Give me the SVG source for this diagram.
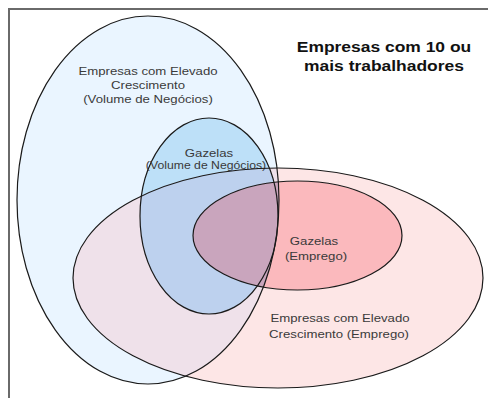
<svg xmlns="http://www.w3.org/2000/svg" width="488" height="398" viewBox="0 0 488 398">
<style>
.ol{fill:none;stroke:#1a1a1a;stroke-width:1.2}
.lb{font-family:"Liberation Sans",Arial,sans-serif;font-size:11px;fill:#3a3a3a;text-anchor:middle}
.tt{font-family:"Liberation Sans",Arial,sans-serif;font-size:14.3px;font-weight:bold;fill:#111;text-anchor:middle}
</style>
<defs>
<clipPath id="cA"><ellipse cx="148" cy="200" rx="131" ry="184"/></clipPath>
<clipPath id="cB"><ellipse cx="209" cy="216" rx="69" ry="98"/></clipPath>
</defs>
<rect width="488" height="398" fill="#fff"/>
<rect x="9" y="9" width="520" height="420" fill="none" stroke="#6a6a6a" stroke-width="2"/>
<g id="fills">
<ellipse cx="148" cy="200" rx="131" ry="184" fill="#eaf5ff"/>
<ellipse cx="209" cy="216" rx="69" ry="98" fill="#bde0f8"/>
<ellipse cx="278" cy="278" rx="205" ry="110" fill="#fde6e6"/>
<ellipse cx="278" cy="278" rx="205" ry="110" fill="#efe1ea" clip-path="url(#cA)"/>
<ellipse cx="278" cy="278" rx="205" ry="110" fill="#bdd1ee" clip-path="url(#cB)"/>
<ellipse cx="297.5" cy="235.5" rx="104.5" ry="54.5" fill="#fbb9bd"/>
<ellipse cx="297.5" cy="235.5" rx="104.5" ry="54.5" fill="#c9a5bd" clip-path="url(#cA)"/>
</g>
<g id="title">
<text class="tt" transform="translate(384,52) scale(1.22,1)">Empresas com 10 ou</text>
<text class="tt" transform="translate(384,71) scale(1.22,1)">mais trabalhadores</text>
</g>
<g id="ec-volume">
<ellipse class="ol" cx="148" cy="200" rx="131" ry="184"/>
<text class="lb" transform="translate(148,75) scale(1.2,1)">Empresas com Elevado</text>
<text class="lb" transform="translate(148,89) scale(1.2,1)">Crescimento</text>
<text class="lb" transform="translate(148,103) scale(1.2,1)">(Volume de Negócios)</text>
</g>
<g id="gazelas-volume">
<ellipse class="ol" cx="209" cy="216" rx="69" ry="98"/>
<text class="lb" transform="translate(209,157) scale(1.2,1)">Gazelas</text>
<text class="lb" style="font-size:10.2px" transform="translate(206,169) scale(1.2,1)">(Volume de Negócios)</text>
</g>
<g id="ec-emprego">
<ellipse class="ol" cx="278" cy="278" rx="205" ry="110"/>
<text class="lb" transform="translate(340,322) scale(1.2,1)">Empresas com Elevado</text>
<text class="lb" transform="translate(339,338) scale(1.2,1)">Crescimento (Emprego)</text>
</g>
<g id="gazelas-emprego">
<ellipse class="ol" cx="297.5" cy="235.5" rx="104.5" ry="54.5"/>
<text class="lb" transform="translate(314,245) scale(1.2,1)">Gazelas</text>
<text class="lb" transform="translate(316,260) scale(1.2,1)">(Emprego)</text>
</g>
<g id="connectors"/>
</svg>
